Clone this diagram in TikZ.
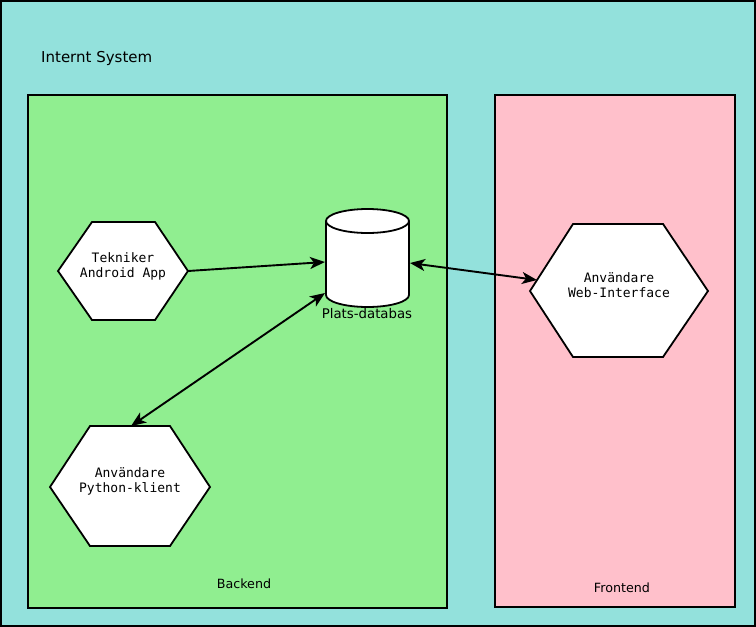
\documentclass[tikz,border=0pt]{standalone}
\usepackage{fontspec}
\setmainfont{DejaVu Sans}
\setmonofont{DejaVu Sans Mono}
\usetikzlibrary{arrows.meta,shapes.geometric}
\definecolor{sysbg}{RGB}{147,225,220}
\definecolor{backbg}{RGB}{144,238,144}
\definecolor{frontbg}{RGB}{255,192,203}
\tikzset{
  area/.style={draw=black,line width=1.8pt},
  hexa/.style={draw=black,fill=white,line width=1.8pt,line join=miter},
  hextext/.style={font=\fontsize{13}{15.5}\selectfont\ttfamily,align=center,inner sep=0pt},
  lbl/.style={font=\fontsize{12.7}{15}\selectfont,inner sep=0pt},
  tip/.tip={Stealth[length=15pt,width=12pt,inset=4pt]},
  conn/.style={line width=1.9pt,-tip},
  conn2/.style={line width=1.9pt,tip-tip},
}
\begin{document}
\begin{tikzpicture}[x=1pt,y=-1pt]
\useasboundingbox (0,0) rectangle (756,627);
% areas
\draw[area,fill=sysbg] (1,1) rectangle (755,626);
\node[font=\fontsize{15}{18}\selectfont,anchor=west,inner sep=0pt] (sys) at (41,58.5) {Internt System};
\draw[area,fill=backbg] (28,95) rectangle (447,608);
\draw[area,fill=frontbg] (495,95) rectangle (735,607);
\node[lbl] (backend) at (244,584) {Backend};
\node[lbl] (frontend) at (622,588) {Frontend};
% Tekniker hexagon
\draw[hexa] (58,271) -- (92,222) -- (155,222) -- (188,271) -- (155,320) -- (92,320) -- cycle;
\coordinate (tekR) at (188,271);
\node[hextext] (tek) at (123,266.5) {Tekniker\\Android App};
% Python hexagon
\draw[hexa] (50,487) -- (90,426) -- (170,426) -- (210,487) -- (170,546) -- (90,546) -- cycle;
\coordinate (pyT) at (131,426);
\node[hextext] (py) at (130,481.5) {Användare\\Python-klient};
% Web hexagon
\draw[hexa] (530,291) -- (573,224) -- (663,224) -- (708,291) -- (663,357) -- (573,357) -- cycle;
\coordinate (webL) at (537,280);
\node[hextext] (web) at (619,285) {Användare\\Web-Interface};
% database cylinder
\draw[hexa] (326,221) -- (326,295) arc[start angle=180,end angle=0,x radius=41.5,y radius=12] -- (409,221) arc[start angle=0,end angle=-180,x radius=41.5,y radius=12] -- cycle;
\draw[hexa] (326,221) arc[start angle=180,end angle=0,x radius=41.5,y radius=12];
\coordinate (dbL1) at (325,262);
\coordinate (dbL2) at (325,293);
\coordinate (dbR) at (410,263);
\node[font=\fontsize{13.3}{15}\selectfont,inner sep=0pt] (db) at (367,314) {Plats-databas};
% connectors
\draw[conn] (tekR) -- (dbL1);
\draw[conn2] (dbR) -- (webL);
\draw[conn2] (dbL2) -- (pyT);
\end{tikzpicture}
\end{document}
